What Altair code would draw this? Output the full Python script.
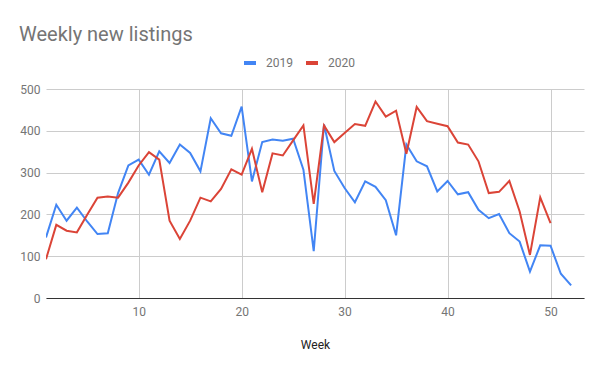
import altair as alt
import pandas as pd

weeks_2019 = list(range(1, 53))
values_2019 = [145, 223, 185, 216, 183, 153, 155, 251, 317, 331,
               295, 351, 323, 367, 347, 303, 430, 394, 388, 458,
               279, 373, 379, 376, 381, 307, 112, 415, 304, 263,
               229, 279, 266, 234, 150, 367, 327, 315, 255, 280,
               248, 253, 211, 191, 201, 155, 135, 63, 126, 125,
               58, 30]
weeks_2020 = list(range(1, 51))
values_2020 = [93, 175, 161, 157, 199, 240, 243, 240, 276, 317,
               349, 331, 185, 141, 185, 240, 231, 261, 308, 295,
               357, 253, 346, 341, 377, 413, 225, 413, 373, 395,
               416, 412, 470, 434, 448, 345, 457, 423, 417, 411,
               372, 367, 327, 251, 254, 280, 207, 103, 241, 179]
series = ["2019", "2020"]
colors = ["#4285F4", "#DB4437"]
x_ticks = [10, 20, 30, 40, 50]
y_ticks = [0, 100, 200, 300, 400, 500]

df = pd.concat([
    pd.DataFrame({"Week": weeks_2019, "Listings": values_2019, "Year": "2019"}),
    pd.DataFrame({"Week": weeks_2020, "Listings": values_2020, "Year": "2020"}),
])

FONT = "Roboto"

chart = alt.Chart(df).mark_line(strokeWidth=2, clip=True).encode(
    x=alt.X("Week:Q",
            scale=alt.Scale(domain=[1, 53.25], nice=False, zero=False),
            axis=alt.Axis(values=x_ticks, grid=True, gridColor="#cccccc",
                          domainColor="#333333", domainWidth=1, ticks=False,
                          labelPadding=8, labelColor="#757575", labelFontSize=12,
                          labelFont=FONT, title="Week", titleFont=FONT,
                          titleFontSize=12, titleFontWeight="normal",
                          titleColor="#222222", titlePadding=22)),
    y=alt.Y("Listings:Q",
            scale=alt.Scale(domain=[0, 500], nice=False),
            axis=alt.Axis(values=y_ticks, grid=True, gridColor="#cccccc",
                          domain=False, ticks=False, labelPadding=6,
                          labelColor="#757575", labelFontSize=12,
                          labelFont=FONT, title=None)),
    color=alt.Color("Year:N",
                    scale=alt.Scale(domain=series, range=colors),
                    legend=alt.Legend(title=None, orient="none",
                                      direction="horizontal",
                                      legendX=196, legendY=-34,
                                      symbolType="stroke", symbolSize=144,
                                      symbolStrokeWidth=4, labelFont=FONT,
                                      labelFontSize=12, labelColor="#757575",
                                      labelOffset=8, columnPadding=5)),
).properties(
    width=538,
    height=209,
    title=alt.TitleParams("Weekly new listings", anchor="start", frame="group",
                          font=FONT, fontSize=20, fontWeight="normal",
                          color="#757575", dx=-27, dy=-6),
    padding={"left": 38, "top": 81, "right": 8, "bottom": 60},
    autosize=alt.AutoSizeParams(type="none"),
).configure_view(stroke=None)

chart.save("out.html", embed_options={"renderer": "svg", "actions": False})
